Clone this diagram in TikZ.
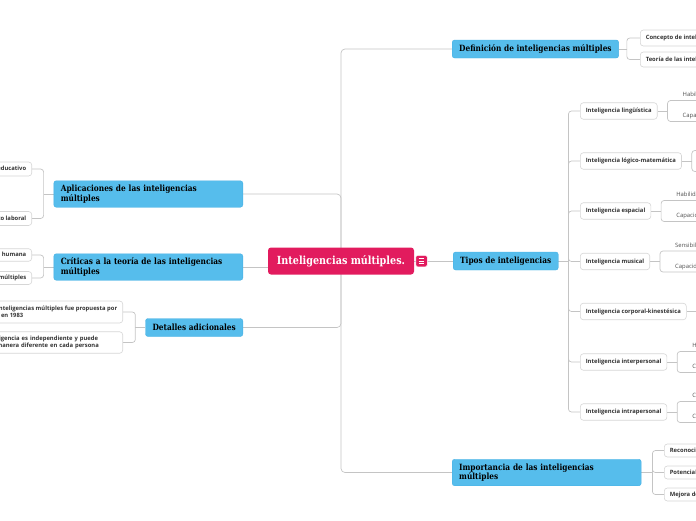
\documentclass[tikz,border=0pt]{standalone}
\usepackage{fontspec}
\setsansfont{Open Sans}
\newfontfamily\slabfont{DejaVu Serif}[FakeStretch=0.86]
\usetikzlibrary{calc,backgrounds}

\definecolor{mindmagenta}{RGB}{226,27,94}
\definecolor{topicblue}{RGB}{86,189,236}
\definecolor{topicedge}{RGB}{70,176,228}
\definecolor{linkgray}{RGB}{196,196,196}
\definecolor{boxgray}{RGB}{214,214,214}
\definecolor{leafgray}{RGB}{80,80,80}

\tikzset{
  central/.style={fill=mindmagenta, rounded corners=3pt, text=white,
    minimum width=146pt, minimum height=27pt, inner xsep=8pt,
    font=\slabfont\bfseries\fontsize{11.2}{13}\selectfont},
  foldbox/.style={fill=mindmagenta, draw=white, line width=0.5pt,
    rounded corners=1.5pt, minimum size=11.5pt, inner sep=0pt},
  topic/.style={fill=topicblue, draw=topicedge, line width=0.4pt,
    rounded corners=2.5pt, inner xsep=7pt, minimum height=18pt,
    font=\slabfont\bfseries\fontsize{8.6}{9.6}\selectfont},
  topic2/.style={topic, text width=175pt, align=left, minimum height=26.5pt},
  subtopic/.style={draw=boxgray, fill=white, line width=0.6pt,
    rounded corners=3pt, inner xsep=5.5pt, minimum height=16.5pt,
    text=black!80, font=\sffamily\bfseries\fontsize{5.85}{7.4}\selectfont},
  leaf/.style={anchor=south west, inner xsep=0pt, inner ysep=2pt,
    text depth=1.4pt, text=leafgray, font=\sffamily\fontsize{5.9}{7}\selectfont},
  link/.style={draw=linkgray, line width=0.7pt},
  fork/.style={link, rounded corners=3pt},
}

\begin{document}
\begin{tikzpicture}[x=1pt,y=-1pt]
  \useasboundingbox (0,0) rectangle (696,520);
  \clip (0,0) rectangle (696,520);

  % central topic
  \node[central] (main) at (341,261) {Inteligencias múltiples.};
  \node[foldbox] (fold) at (421.5,261) {};
  \foreach \dy in {-2.3,0,2.3}
    \draw[white, line width=0.7pt] ($(fold.center)+(-2.8,\dy)$) -- ++(5.6,0);

  % main topics
  \node[topic, anchor=west] (defin) at (452,49) {Definición de inteligencias múltiples};
  \node[topic, anchor=west] (tipos) at (453,261) {Tipos de inteligencias};
  \node[topic2, anchor=west] (impor) at (452,472.5) {Importancia de las inteligencias\\múltiples};
  \node[topic2, anchor=east] (aplic) at (243,194) {Aplicaciones de las inteligencias\\múltiples};
  \node[topic2, anchor=east] (criti) at (243,267) {Críticas a la teoría de las inteligencias\\múltiples};
  \node[topic, anchor=east] (detal) at (243,327.5) {Detalles adicionales};

  % definicion
  \node[subtopic, anchor=west, minimum height=16pt] (concep) at (640,38) {Concepto de inteligencias múltiples};
  \node[subtopic, anchor=west, minimum height=15pt] (teoria) at (640,59.5) {Teoría de las inteligencias múltiples de Howard Gardner};

  % tipos
  \node[subtopic, anchor=west] (ling) at (580,111) {Inteligencia lingüística};
  \node[subtopic, anchor=west] (logic) at (580,161) {Inteligencia lógico-matemática};
  \node[subtopic, anchor=west] (espac) at (580,211) {Inteligencia espacial};
  \node[subtopic, anchor=west] (music) at (580,261.5) {Inteligencia musical};
  \node[subtopic, anchor=west] (corpo) at (580,311.5) {Inteligencia corporal-kinestésica};
  \node[subtopic, anchor=west] (inter) at (580,362) {Inteligencia interpersonal};
  \node[subtopic, anchor=west] (intra) at (580,412) {Inteligencia intrapersonal};

  \coordinate (tiposfork) at ($(tipos.east)+(10,0)$);
  \coordinate (lingfork) at ($(ling.east)+(10,0)$);
  \coordinate (logicfork) at ($(logic.east)+(10,0)$);
  \coordinate (espacfork) at ($(espac.east)+(10,0)$);
  \coordinate (musicfork) at ($(music.east)+(10,0)$);
  \coordinate (corpofork) at ($(corpo.east)+(10,0)$);
  \coordinate (interfork) at ($(inter.east)+(10,0)$);
  \coordinate (intrafork) at ($(intra.east)+(10,0)$);

  \node[leaf] (ling1) at ($(lingfork)+(15,-10.5)$) {Habilidad para usar el lenguaje};
  \node[leaf] (ling2) at ($(lingfork)+(15,10.5)$) {Capacidad para aprender idiomas};
  \node[leaf] (logic1) at ($(logicfork)+(15,-10.5)$) {Habilidad para el razonamiento lógico};
  \node[leaf] (logic2) at ($(logicfork)+(15,10.5)$) {Capacidad para resolver problemas};
  \node[leaf] (espac1) at ($(espacfork)+(15,-10.5)$) {Habilidad para visualizar el espacio};
  \node[leaf] (espac2) at ($(espacfork)+(15,10.5)$) {Capacidad para crear imágenes mentales};
  \node[leaf] (music1) at ($(musicfork)+(15,-10.5)$) {Sensibilidad a los sonidos y ritmos};
  \node[leaf] (music2) at ($(musicfork)+(15,10.5)$) {Capacidad para interpretar música};
  \node[leaf] (inter1) at ($(interfork)+(15,-10.5)$) {Habilidad para comprender a los demás};
  \node[leaf] (inter2) at ($(interfork)+(15,10.5)$) {Capacidad de trabajar en equipo};
  \node[leaf] (intra1) at ($(intrafork)+(15,-10.5)$) {Conocimiento de uno mismo};
  \node[leaf] (intra2) at ($(intrafork)+(15,10.5)$) {Capacidad de autorreflexión};

  % importancia
  \node[subtopic, anchor=west, minimum height=13pt] (recon) at (664,450.5) {Reconocimiento de la diversidad};
  \node[subtopic, anchor=west, minimum height=13pt] (poten) at (664,472.5) {Potencial de cada persona};
  \node[subtopic, anchor=west, minimum height=13pt] (mejor) at (664,494.5) {Mejora del aprendizaje};

  % aplicaciones, criticas, detalles
  \node[subtopic, anchor=east, minimum height=14pt] (educa) at (32,169) {Aplicación en el ámbito educativo};
  \node[subtopic, anchor=east, minimum height=14pt] (labor) at (32,218.5) {Aplicación en el ámbito laboral};
  \node[subtopic, anchor=east, minimum height=12pt] (simpl) at (32,255) {Simplificación de la inteligencia humana};
  \node[subtopic, anchor=east, minimum height=13pt] (medir) at (32,278) {Dificultad para medir las inteligencias múltiples};
  \node[subtopic, anchor=east, align=left, minimum height=22pt] (gardn) at (123,312) {La teoría de las inteligencias múltiples fue propuesta por\\Howard Gardner en 1983};
  \node[subtopic, anchor=east, align=left, text width=148pt, minimum height=21.5pt] (indep) at (123,342.5) {Cada inteligencia es independiente y puede\\darse de manera diferente en cada persona};

  \begin{scope}[on background layer]
    \draw[link, rounded corners=4pt] (main.center) |- (defin.west);
    \draw[link, rounded corners=4pt] (main.center) |- (impor.west);
    \draw[link, rounded corners=4pt] (main.center) |- (aplic.east);
    \draw[link] (main.center) |- (criti.east);
    \draw[link, rounded corners=4pt] (main.center) |- (detal.east);
    \draw[link] (main.east) -- (tipos.west);

    \draw[link] (defin.east) -- ++(8,0) coordinate (definfork);
    \draw[fork] (definfork) |- (concep.west);
    \draw[fork] (definfork) |- (teoria.west);

    \draw[link] (tipos) -- (tiposfork);
    \foreach \n in {ling,logic,espac,music,corpo,inter,intra}
      \draw[fork] (tiposfork) |- (\n.west);
    \foreach \n in {ling,logic,espac,music,inter,intra} {
      \draw[link] (\n) -- (\n fork);
      \draw[fork] (\n fork) |- (\n1.south west) -- (\n1.south east);
      \draw[fork] (\n fork) |- (\n2.south west) -- (\n2.south east);
    }
    \draw[link] (corpo) -- (corpofork);

    \draw[link] (impor.east) -- ++(11,0) coordinate (imporfork);
    \foreach \n in {recon,poten,mejor}
      \draw[fork] (imporfork) |- (\n.west);

    \draw[link] (aplic.west) -- ++(-10,0) coordinate (aplicfork);
    \draw[fork] (aplicfork) |- (educa.east);
    \draw[fork] (aplicfork) |- (labor.east);
    \draw[link] (criti.west) -- ++(-10,0) coordinate (critifork);
    \draw[fork] (critifork) |- (simpl.east);
    \draw[fork] (critifork) |- (medir.east);
    \draw[link] (detal.west) -- ++(-10,0) coordinate (detalfork);
    \draw[fork] (detalfork) |- (gardn.east);
    \draw[fork] (detalfork) |- (indep.east);
  \end{scope}
\end{tikzpicture}
\end{document}
